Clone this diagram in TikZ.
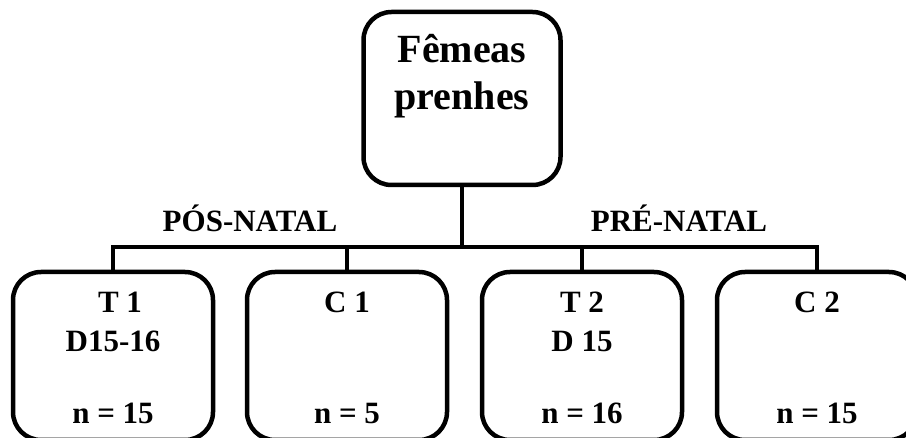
\documentclass[tikz,border=0pt]{standalone}
\usepackage{fontspec}
\setmainfont{Liberation Serif}
\begin{document}
\begin{tikzpicture}[x=1pt,y=-1pt,
  frame/.style={draw, line width=4.5pt, rounded corners=28pt, inner sep=0pt},
  topbox/.style={frame, minimum width=197pt, minimum height=173pt},
  groupbox/.style={frame, minimum width=200pt, minimum height=168pt},
  link/.style={line width=4.5pt},
  bigtext/.style={anchor=base, inner sep=0pt, font=\bfseries\fontsize{40}{40}\selectfont},
  label/.style={anchor=base, inner sep=0pt, font=\bfseries\fontsize{31}{31}\selectfont},
]
\useasboundingbox (0,0) rectangle (906,438);
\clip (0,0) rectangle (906,438);

% root box
\node[topbox] (root) at (462,98.5) {};
\node[bigtext] (l1) at (462,63) {Fêmeas};
\node[bigtext] (l2) at (462,110) {prenhes};

% group boxes
\node[groupbox] (t1) at (113,356) {};
\node[groupbox] (c1) at (347,356) {};
\node[groupbox] (t2) at (582,356) {};
\node[groupbox] (c2) at (817,356) {};

% branch bar
\coordinate (bar) at (462,247);
\draw[link] (root.south) -- (bar);
\draw[link] (t1.north) -- (t1.north |- bar) -- (c2.north |- bar) -- (c2.north);
\draw[link] (c1.north) -- (c1.north |- bar);
\draw[link] (t2.north) -- (t2.north |- bar);

% branch titles
\node[label] (pos) at (250,232) {PÓS-NATAL};
\node[label] (pre) at (679,232) {PRÉ-NATAL};

% group contents
\node[label] (t1a) at (120,312.5) {T 1};
\node[label] (t1b) at (113,352) {D15-16};
\node[label] (t1n) at (113,424) {n = 15};

\node[label] (c1a) at (347,312.5) {C 1};
\node[label] (c1n) at (347,424) {n = 5};

\node[label] (t2a) at (582,312.5) {T 2};
\node[label] (t2b) at (582,352) {D 15};
\node[label] (t2n) at (582,424) {n = 16};

\node[label] (c2a) at (817,312.5) {C 2};
\node[label] (c2n) at (817,424) {n = 15};
\end{tikzpicture}
\end{document}
